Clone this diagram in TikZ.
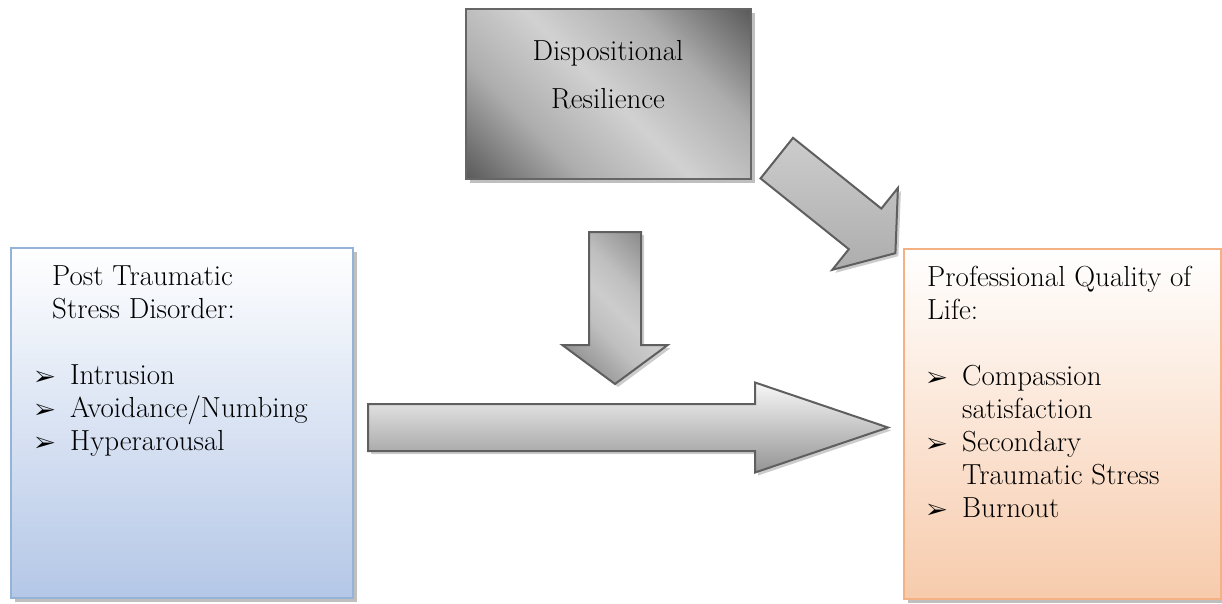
\documentclass[tikz,border=0pt]{standalone}
\usepackage{pifont}
\usepackage{tikz}
\usetikzlibrary{shapes.arrows,shadows}
\usetikzlibrary{positioning}

\definecolor{ptsdline}{RGB}{149,179,215}
\definecolor{ptsdfill}{RGB}{180,199,231}
\definecolor{qolline}{RGB}{244,177,131}
\definecolor{qolfill}{RGB}{247,203,172}
\definecolor{arrline}{RGB}{95,95,95}

% dark corners, light diagonal band
\pgfdeclareverticalshading{resilshade}{100bp}{color(0bp)=(black!64); color(15bp)=(black!64);
    color(33bp)=(black!32); color(50bp)=(black!18); color(67bp)=(black!32);
    color(85bp)=(black!64); color(100bp)=(black!64)}
\pgfdeclareverticalshading{downshade}{100bp}{color(0bp)=(black!50); color(20bp)=(black!48);
    color(40bp)=(black!25); color(50bp)=(black!20); color(60bp)=(black!25);
    color(80bp)=(black!48); color(100bp)=(black!50)}

\newcommand{\bul}{\makebox[35pt][l]{\fontsize{22}{22}\selectfont\ding{226}}}

\begin{document}
\begin{tikzpicture}[x=1pt,y=-1pt]
    \useasboundingbox (0,0) rectangle (1222,603);

    % boxes
    \begin{scope}[every node/.style={rectangle, line width=2pt, anchor=north west,
            drop shadow={shadow xshift=4pt, shadow yshift=-4pt, fill=black!50, opacity=.5}}]
        \node[draw=ptsdline, top color=white, bottom color=ptsdfill,
            minimum width=342pt, minimum height=350pt] (ptsd) at (10,247) {};
        \node[draw=qolline, top color=white, bottom color=qolfill,
            minimum width=317pt, minimum height=350pt] (qol) at (903,248) {};
        \node[draw=black!60, shading=resilshade, shading angle=-45,
            minimum width=285pt, minimum height=170pt] (resil) at (465,8) {};
    \end{scope}

    \begin{scope}[every node/.style={inner sep=0pt, font=\fontsize{29}{33}\selectfont}]
        \node[align=center, font=\fontsize{29}{48}\selectfont, anchor=base] (resiltxt) at (608,108)
            {Dispositional\\Resilience};
        \node[align=left, anchor=base west] (ptsdtxt) at (35,450)
            {\hspace*{17pt}Post Traumatic\\
             \hspace*{17pt}Stress Disorder:\\[33pt]
             \bul Intrusion\\
             \bul Avoidance/Numbing\\
             \bul Hyperarousal};
        \node[align=left, anchor=base west] (qoltxt) at (927,517)
            {Professional Quality of\\
             Life:\\[33pt]
             \bul Compassion\\
             \hspace*{35pt}satisfaction\\
             \bul Secondary\\
             \hspace*{35pt}Traumatic Stress\\
             \bul Burnout};
    \end{scope}

    % arrows
    \begin{scope}[every node/.style={single arrow, draw=arrline, line width=2pt, inner sep=0pt,
            anchor=tail, drop shadow={shadow xshift=3pt, shadow yshift=-3pt, fill=black!50, opacity=.4}}]
        \node[minimum height=520pt, inner ysep=22.5pt, single arrow head extend=21.5pt,
            single arrow tip angle=37.4, top color=black!3, bottom color=black!42] (arrmain) at (367,427.5) {};
        \node[minimum height=152pt, inner ysep=25pt, single arrow head extend=26.5pt,
            single arrow tip angle=107, rotate=-90, shading=downshade, shading angle=-45] (arrdown) at (615,231) {};
        \node[minimum height=152pt, inner ysep=25pt, single arrow head extend=26.5pt,
            single arrow tip angle=107, rotate=-38.7, top color=black!20, bottom color=black!32]
            (arrdiag) at (776,157.5) {};
    \end{scope}
\end{tikzpicture}
\end{document}
